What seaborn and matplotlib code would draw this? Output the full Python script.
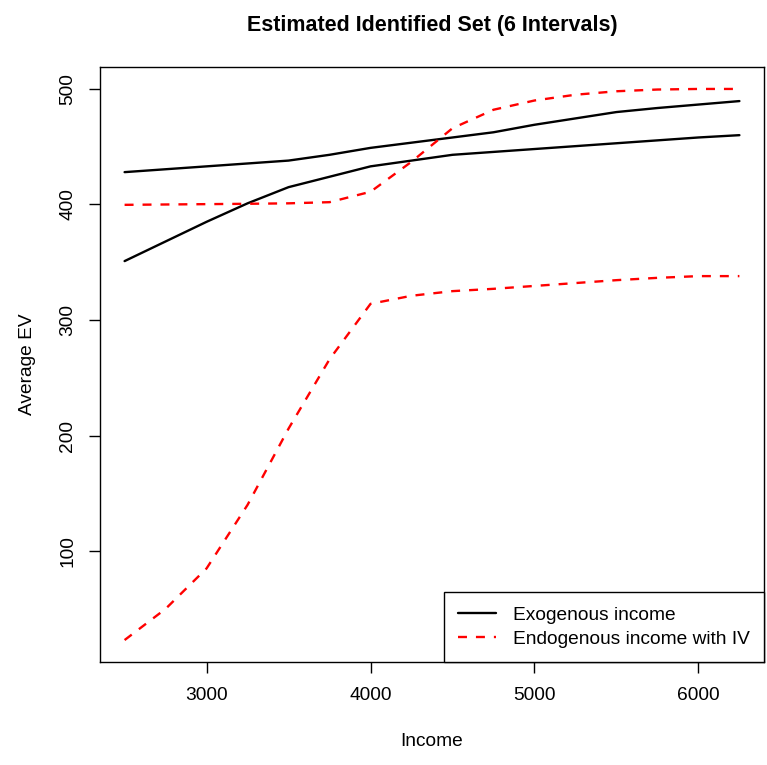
import matplotlib
matplotlib.use("Agg")
import matplotlib.pyplot as plt
import seaborn as sns
import pandas as pd
from matplotlib.lines import Line2D

income = [2500, 2750, 3000, 3250, 3500, 3750, 4000, 4250, 4500, 4750, 5000, 5250, 5500, 5750, 6000, 6250]
exo_upper = [428, 430.5, 433, 435.5, 438, 443, 449, 453.5, 458, 462.5, 469, 474.5, 480, 483.5, 486.5, 489.5]
exo_lower = [351, 368, 385, 401, 415, 424, 433, 438, 443, 445.5, 448, 450.5, 453, 455.5, 458, 460]
endo_upper = [399.7, 400, 400.3, 400.6, 401, 402, 411, 437, 466, 482, 490, 495, 498, 499.5, 500, 500]
endo_lower = [23, 50, 85, 140, 206, 266, 314, 321, 325, 327, 329.5, 332, 334.5, 336.5, 338, 338]

labels = ["Exogenous income", "Endogenous income with IV"]
title = "Estimated Identified Set (6 Intervals)"

sns.set_theme(style="ticks")
plt.rcParams['font.family'] = ['Liberation Sans', 'DejaVu Sans']
plt.rcParams['text.color'] = 'black'
plt.rcParams['axes.labelcolor'] = 'black'

fig = plt.figure(figsize=(7.67, 7.65), dpi=100)
L, R, T, B = 100, 764, 67, 662
ax = fig.add_axes([L/767, 1-B/765, (R-L)/767, (B-T)/765])

series = [
    (exo_upper, "black", "-"),
    (exo_lower, "black", "-"),
    (endo_upper, "red", "--"),
    (endo_lower, "red", "--"),
]
for vals, col, ls in series:
    df = pd.DataFrame({"Income": income, "EV": vals})
    sns.lineplot(data=df, x="Income", y="EV", color=col, linewidth=1.7,
                 estimator=None, ax=ax)
    ln = ax.get_lines()[-1]
    if ls == "--":
        ln.set_dashes((3.8, 3.8))

ax.set_xlim(2350, 6400)
ax.set_ylim(4, 519)
ax.set_xticks([3000, 4000, 5000, 6000])
ax.set_yticks([100, 200, 300, 400, 500])
for s in ax.spines.values():
    s.set_visible(True)
    s.set_color("black")
    s.set_linewidth(1.0)
ax.tick_params(axis="both", direction="out", length=8, width=1, color="black",
               labelsize=13.8, labelcolor="black")
ax.tick_params(axis="x", pad=10)
ax.tick_params(axis="y", pad=9)
for t in ax.get_yticklabels():
    t.set_rotation(90)
    t.set_va("center")
ax.set_xlabel("Income", fontsize=13.8, labelpad=21)
ax.set_ylabel("Average EV", fontsize=13.8, labelpad=17)
fig.text((L+R)/2/767, 1-26/765, title, fontsize=15.5, fontweight="bold",
         ha="center", va="center", color="black")

handles = [Line2D([0], [0], color="black", lw=1.7),
           Line2D([0], [0], color="red", lw=1.7, dashes=(3.8, 3.8))]
leg = ax.legend(handles, labels, loc="lower right", borderaxespad=0,
                fancybox=False, framealpha=1, edgecolor="black", fontsize=13.8,
                handlelength=2.0, borderpad=0.75, labelspacing=0.33, handletextpad=0.85)
leg.get_frame().set_linewidth(1.0)

fig.savefig("out.png", dpi=100)
